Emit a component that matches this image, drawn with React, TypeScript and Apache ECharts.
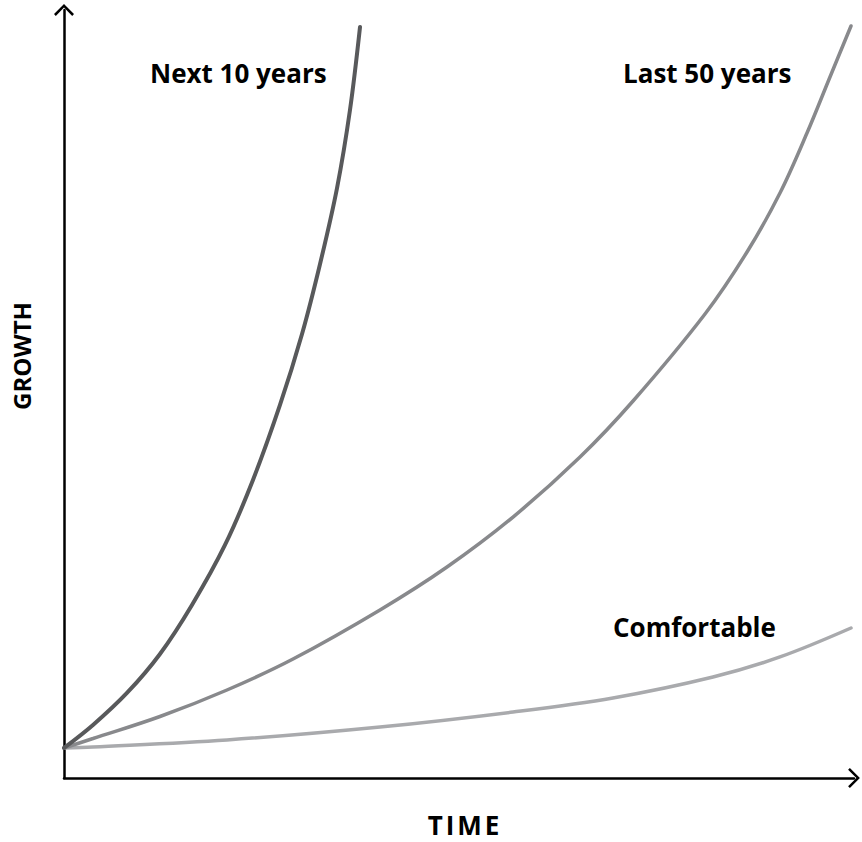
import React, { useEffect, useRef } from "react";
import * as echarts from "echarts";

// Time (x, 0–100) and growth (y, 0–100) readings for each curve
const next10X = [0, 3.67, 7.97, 12.15, 16.2, 20.38, 23.92, 27.34, 30.13, 32.41, 34.56, 36.2, 37.47];
const next10Y = [3.91, 6.9, 11.07, 16.15, 22.53, 30.34, 38.8, 48.57, 57.81, 66.93, 76.82, 86.98, 97.79];

const last50X = [0, 3.67, 12.15, 20.63, 28.99, 40.0, 48.48, 56.84, 65.32, 72.03, 81.14, 86.46, 90.63, 94.05, 96.96, 99.62];
const last50Y = [3.91, 5.14, 8.01, 11.46, 15.49, 21.88, 27.47, 33.98, 41.8, 49.09, 60.42, 68.49, 76.17, 83.98, 91.28, 97.92];

const comfX = [0, 3.67, 20.63, 40.0, 56.84, 69.49, 82.15, 90.63, 99.62];
const comfY = [3.91, 4.04, 4.95, 6.64, 8.59, 10.42, 13.15, 15.76, 19.53];

const seriesNames = ["Next 10 years", "Last 50 years", "Comfortable"];
const axisNames = ["TIME", "GROWTH"];

const zip = (xs: number[], ys: number[]) => xs.map((x, i) => [x, ys[i]]);

const CHEVRON = "path://M10,0 L20,10 L18.2,11.8 L10,3.5 L1.8,11.8 L0,10 Z";

export default function App() {
  const ref = useRef<HTMLDivElement>(null);
  useEffect(() => {
    if (!ref.current) return;
    const chart = echarts.init(ref.current, undefined, { renderer: "svg" });
    const axisCommon = {
      type: "value" as const,
      min: 0,
      max: 100,
      axisLine: {
        show: true,
        symbol: ["none", CHEVRON],
        symbolSize: [20, 11.8],
        lineStyle: { color: "#000", width: 2.5 },
      },
      axisTick: { show: false },
      axisLabel: { show: false },
      splitLine: { show: false },
    };
    const labelFont = 'bold 26px "Open Sans"';
    const timeFont = 'bold 26px "Open Sans"';
    const growthFont = 'bold 24px "Open Sans"';
    const lineCommon = { type: "line" as const, smooth: 0.35, showSymbol: false };
    chart.setOption({
      animation: false,
      backgroundColor: "#fff",
      grid: { left: 64, right: 8, top: 10, bottom: 64 },
      xAxis: axisCommon,
      yAxis: axisCommon,
      series: [
        {
          ...lineCommon,
          name: seriesNames[0],
          data: zip(next10X, next10Y),
          lineStyle: { color: "#58595b", width: 4, cap: "round" },
          z: 3,
        },
        {
          ...lineCommon,
          name: seriesNames[1],
          data: zip(last50X, last50Y),
          lineStyle: { color: "#88898c", width: 3.5, cap: "round" },
          z: 2,
        },
        {
          ...lineCommon,
          name: seriesNames[2],
          data: zip(comfX, comfY),
          lineStyle: { color: "#a9aaad", width: 3.5, cap: "round" },
          z: 1,
        },
      ],
      graphic: [
        { type: "text", x: 150, y: 73, style: { text: seriesNames[0], font: labelFont, fill: "#000", align: "left", verticalAlign: "middle" } },
        { type: "text", x: 623, y: 73, style: { text: seriesNames[1], font: labelFont, fill: "#000", align: "left", verticalAlign: "middle" } },
        { type: "text", x: 613, y: 627, style: { text: seriesNames[2], font: labelFont, fill: "#000", align: "left", verticalAlign: "middle" } },
        { type: "text", x: 465, y: 825, style: { text: axisNames[0], font: timeFont, fill: "#000", align: "center", verticalAlign: "middle" } },
        { type: "text", x: 21, y: 356, rotation: Math.PI / 2, style: { text: axisNames[1], font: growthFont, fill: "#000", align: "center", verticalAlign: "middle" } },
      ],
    });
    // widen the tracking of the axis title as in the reference
    ref.current.querySelectorAll("text").forEach((t) => {
      if (t.textContent === axisNames[0]) t.setAttribute("letter-spacing", "3");
    });
    return () => chart.dispose();
  }, []);
  return (
    <div
      ref={ref}
      style={{ position: "fixed", left: 0, top: 0, width: 862, height: 842, background: "#fff" }}
    />
  );
}
